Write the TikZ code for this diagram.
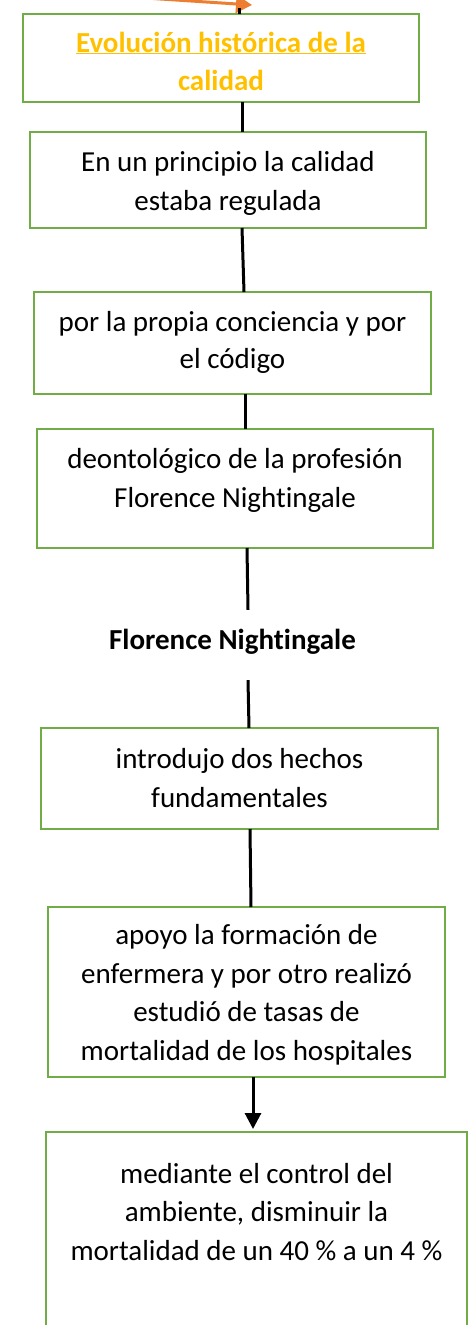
\documentclass[tikz,border=0pt]{standalone}
\usepackage{fontspec}
\setmainfont{Carlito}[Ligatures={NoCommon}]
\usetikzlibrary{arrows.meta}
\definecolor{boxgreen}{HTML}{70AD47}
\definecolor{arroworange}{HTML}{ED7D31}
\definecolor{titlegold}{HTML}{FFC000}
\tikzset{
  stepbox/.style={draw=boxgreen, line width=2.6pt, rectangle, inner sep=0pt, outer sep=0pt},
  boxtext/.style={inner sep=0pt, anchor=base, align=center, font=\fontsize{29}{38.5}\selectfont},
  conn/.style={draw=black, line width=3pt},
}
\begin{document}
\begin{tikzpicture}[x=1pt, y=-1pt]
\useasboundingbox (0,0) rectangle (468,1325);
\clip (0,0) rectangle (468,1325);
% boxes
\node[stepbox, minimum width=396pt, minimum height=88pt] (b1) at (221,58) {};
\node[stepbox, minimum width=396pt, minimum height=96pt] (b2) at (228,180) {};
\node[stepbox, minimum width=397pt, minimum height=102pt] (b3) at (232.5,343) {};
\node[stepbox, minimum width=396pt, minimum height=119pt] (b4) at (235,488.5) {};
\node[stepbox, minimum width=397pt, minimum height=101pt] (b6) at (239.5,778.5) {};
\node[stepbox, minimum width=397pt, minimum height=170pt] (b7) at (246.5,992) {};
\node[stepbox, minimum width=421pt, minimum height=268pt] (b8) at (256.5,1266) {};
% texts (anchor base = baseline of the last line)
\node[boxtext, text=titlegold, font=\fontsize{29}{38}\selectfont\bfseries] (t1) at (221,90)
  {\underline{Evolución histórica de la}\\calidad};
\node[boxtext] (t2) at (228,210) {En un principio la calidad\\estaba regulada};
\node[boxtext, font=\fontsize{29}{37}\selectfont] (t3) at (232.5,368) {por la propia conciencia y por\\el código};
\node[boxtext] (t4) at (235,507) {deontológico de la profesión\\Florence Nightingale};
\node[inner xsep=0pt, inner ysep=19pt, text height=20pt, text depth=12pt, anchor=base,
      font=\fontsize{29}{38}\selectfont\bfseries] (fn) at (232.5,649) {Florence Nightingale};
\node[boxtext] (t6) at (239.5,807) {introdujo dos hechos\\fundamentales};
\node[boxtext] (t7) at (246.5,1060) {apoyo la formación de\\enfermera y por otro realizó\\estudió de tasas de\\mortalidad de los hospitales};
\node[boxtext] (t8) at (256.5,1260) {mediante el control del\\ambiente, disminuir la\\mortalidad de un 40 \% a un 4 \%};
% incoming orange arrow
\coordinate (oa) at (130,-3);
\coordinate (ob) at (252,5);
\coordinate (bt) at (239,8);
\draw[draw=arroworange, line width=3pt, -{Triangle[length=16pt,width=18pt]}] (oa) -- (ob);
\draw[conn] (bt) -- ([xshift=18pt]b1.north);
% connectors
\draw[conn] ([xshift=21pt]b1.south) -- ([xshift=14pt]b2.north);
\draw[conn] ([xshift=14pt]b2.south) -- ([xshift=11.5pt]b3.north);
\draw[conn] ([xshift=12.5pt]b3.south) -- ([xshift=10pt]b4.north);
\draw[conn] ([xshift=12pt]b4.south) -- ([xshift=15.5pt]fn.north);
\draw[conn] ([xshift=15.5pt]fn.south) -- ([xshift=9.5pt]b6.north);
\draw[conn] ([xshift=10.5pt]b6.south) -- ([xshift=4.5pt]b7.north);
\draw[conn, -{Triangle[length=16pt,width=16pt]}, shorten >=3pt] ([xshift=6.5pt]b7.south) -- ([xshift=-3.5pt]b8.north);
\end{tikzpicture}
\end{document}
